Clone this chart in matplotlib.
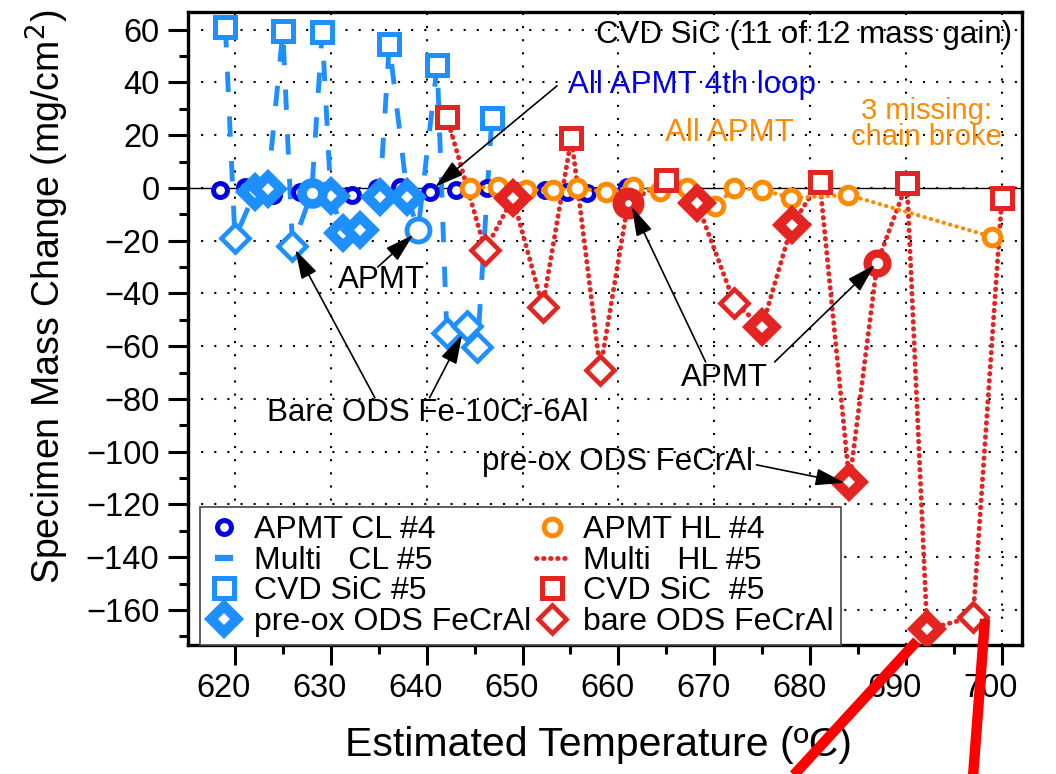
import matplotlib
matplotlib.use("Agg")
import matplotlib.pyplot as plt
from matplotlib.lines import Line2D
from matplotlib.ticker import MultipleLocator
from matplotlib.transforms import ScaledTranslation

plt.rcParams["font.family"] = ["Liberation Sans", "DejaVu Sans"]

# APMT 4th loop (single specimens in each loop)
cl_apmt4_t = [618.4, 621.0, 624.0, 626.8, 629.5, 632.2, 634.8, 637.2, 640.3, 643.1,
              646.3, 649.3, 652.3, 654.6, 656.7, 658.8, 660.9]
cl_apmt4_y = [-0.8, 0.4, -2.6, -1.5, -1.0, -2.6, 0.0, 0.4, -1.5, -0.8,
              0.0, -1.0, -0.8, -1.5, -1.9, -1.5, 0.4]
hl_apmt4_t = [644.5, 647.4, 650.4, 653.2, 655.7, 658.7, 661.5, 664.3, 667.2, 670.1,
              672.1, 675.0, 678.0, 684.0, 699.0]
hl_apmt4_y = [0.0, 0.4, -0.8, -0.8, 0.0, -1.5, 0.4, -1.0, 0.0, -7.0,
              0.0, -0.8, -3.8, -2.7, -18.6]

# Multi-material chain, cold leg #5
cl_sic_t = [619.0, 625.0, 629.1, 636.1, 641.1, 646.8]
cl_sic_y = [61.0, 59.5, 59.0, 54.5, 46.6, 26.5]
cl_preox_t = [622.1, 623.4, 630.0, 631.3, 633.0, 635.1, 638.0]
cl_preox_y = [-1.5, -0.5, -3.0, -17.0, -16.0, -3.4, -3.4]
cl_bare_t = [620.0, 626.0, 642.1, 644.2, 645.3]
cl_bare_y = [-19.0, -22.0, -55.0, -52.5, -60.5]
cl_apmt_t = [628.0, 639.1]
cl_apmt_y = [-2.0, -16.0]

# Multi-material chain, hot leg #5
hl_sic_t = [642.1, 655.1, 665.0, 681.0, 690.1, 700.0]
hl_sic_y = [27.0, 19.0, 3.0, 2.3, 1.9, -3.8]
hl_preox_t = [649.0, 668.2, 675.0, 678.1, 684.1, 692.2]
hl_preox_y = [-3.8, -5.7, -52.6, -14.0, -111.7, -167.4]
hl_bare_t = [646.1, 652.1, 658.1, 672.1, 697.0]
hl_bare_y = [-23.5, -45.0, -69.0, -43.6, -162.6]
hl_apmt_t = [661.0, 687.0]
hl_apmt_y = [-5.7, -28.4]

DKBLUE = "#0000e6"
LTBLUE = "#1e8fff"
RED = "#e32420"
ORANGE = "#ff8a00"


def chain(*pairs):
    pts = []
    for t, y in pairs:
        pts += list(zip(t, y))
    pts.sort()
    return [p[0] for p in pts], [p[1] for p in pts]


fig = plt.figure(figsize=(10.56, 7.74), dpi=100)
ax = fig.add_axes([0.178, 0.1667, 0.7898, 0.8182])
ax.set_xlim(615.1, 702.1)
ax.set_ylim(-173.3, 66.8)

ax.set_xticks(range(620, 701, 10))
ax.xaxis.set_minor_locator(MultipleLocator(5))
ax.set_yticks(range(-160, 61, 20))
ax.yaxis.set_minor_locator(MultipleLocator(10))
ax.tick_params(which="both", direction="out", width=2.2, top=False, right=False,
               labelsize=23.5)
ax.tick_params(which="major", length=14.5, pad=6)
ax.tick_params(which="minor", length=6.5)
for s in ax.spines.values():
    s.set_linewidth(2.4)
ax.grid(True, which="major", color="black", linewidth=1.5,
        linestyle=(0, (1, 5.3)), zorder=0.5)
ax.set_axisbelow(True)
ax.axhline(0, color="black", lw=1.0, zorder=1)

# x tick labels sit a little left of their ticks in the original
shift = ScaledTranslation(-11 / 100, 0, fig.dpi_scale_trans)
for tk in ax.xaxis.get_major_ticks():
    tk.label1.set_transform(tk.label1.get_transform() + shift)

# chain lines
ct, cy = chain((cl_sic_t, cl_sic_y), (cl_preox_t, cl_preox_y),
               (cl_bare_t, cl_bare_y), (cl_apmt_t, cl_apmt_y))
ax.plot(ct, cy, color=LTBLUE, lw=3.5, ls=(0, (4.2, 5.0)), zorder=3)
ht, hy = chain((hl_sic_t, hl_sic_y), (hl_preox_t, hl_preox_y),
               (hl_bare_t, hl_bare_y), (hl_apmt_t, hl_apmt_y))
ax.plot(ht, hy, color=RED, lw=3.5, ls=(0, (0.1, 1.35)),
        dash_capstyle="round", zorder=3)

# APMT 4th loop
ax.plot(cl_apmt4_t, cl_apmt4_y, ls="none", marker="o", ms=10, mew=3.6,
        mec=DKBLUE, mfc="white", zorder=4)
ax.plot(hl_apmt4_t, hl_apmt4_y, color=ORANGE, lw=3, ls=(0, (0.1, 1.5)),
        dash_capstyle="round", marker="o", ms=12, mew=3.6, mfc="white", zorder=5)

sq = dict(ls="none", marker="s", ms=14.4, mew=3.6, mfc="white")
od = dict(ls="none", marker="D", ms=14.5, mew=3.3, mfc="white")
fd = dict(ls="none", marker="D", ms=13.2, mew=7.2, mfc="white")

ax.plot(cl_bare_t, cl_bare_y, mec=LTBLUE, zorder=6, **od)
ax.plot(cl_preox_t, cl_preox_y, mec=LTBLUE, zorder=6, **fd)
ax.plot(cl_sic_t, cl_sic_y, mec=LTBLUE, zorder=6, **sq)
ax.plot(cl_apmt_t[:1], cl_apmt_y[:1], ls="none", marker="o", ms=15, mew=7,
        mec=LTBLUE, mfc="white", zorder=6)
ax.plot(cl_apmt_t[1:], cl_apmt_y[1:], ls="none", marker="o", ms=16.5, mew=3.5,
        mec=LTBLUE, mfc="white", zorder=6)

ax.plot(hl_bare_t, hl_bare_y, mec=RED, zorder=7, **od)
ax.plot(hl_preox_t, hl_preox_y, mec=RED, zorder=7, **fd)
ax.plot(hl_sic_t, hl_sic_y, mec=RED, zorder=7, **sq)
ax.plot(hl_apmt_t[:1], hl_apmt_y[:1], ls="none", marker="o", ms=14, mew=9,
        mec=RED, mfc="white", zorder=7)
ax.plot(hl_apmt_t[1:], hl_apmt_y[1:], ls="none", marker="o", ms=14.2, mew=6,
        mec=RED, mfc="white", zorder=7)

# text and arrows
ax.text(701.1, 58.0, "CVD SiC (11 of 12 mass gain)", ha="right", va="center",
        fontsize=22.5, zorder=8)
ax.text(654.7, 39.0, "All APMT 4th loop", color=DKBLUE, ha="left", va="center",
        fontsize=22.5, zorder=8)
ax.text(664.85, 20.9, "All APMT", color=ORANGE, ha="left", va="center",
        fontsize=22.5, zorder=8)
ax.text(692.1, 24.1, "3 missing:\nchain broke", color=ORANGE, ha="center",
        va="center", fontsize=21, linespacing=0.9, zorder=8)
ax.text(635.3, -34.9, "APMT", ha="center", va="center", fontsize=22.5, zorder=8)
ax.text(640.1, -85.3, "Bare ODS Fe-10Cr-6Al", ha="center", va="center",
        fontsize=22.5, zorder=8)
ax.text(671.1, -72.0, "APMT", ha="center", va="center", fontsize=22.5, zorder=8)
ax.text(659.95, -103.9, "pre-ox ODS FeCrAl", ha="center", va="center",
        fontsize=22.5, zorder=8)

arrows = [
    ((653.6, 38.7), (640.9, 0.4)),
    ((634.9, -30.0), (638.6, -17.8)),
    ((634.6, -79.6), (626.3, -23.5)),
    ((640.3, -79.6), (643.7, -55.7)),
    ((669.1, -66.0), (661.4, -7.2)),
    ((676.3, -66.0), (686.75, -29.2)),
    ((674.4, -105.0), (683.6, -111.8)),
]
for tail, head in arrows:
    ax.annotate("", xy=head, xytext=tail, zorder=9,
                arrowprops=dict(arrowstyle="-|>,head_length=1.2,head_width=0.35",
                                color="black", lw=1.2, shrinkA=0, shrinkB=0,
                                mutation_scale=15))

ax.set_xlabel("Estimated Temperature (ºC)", fontsize=29.5)
ax.set_ylabel("Specimen Mass Change (mg/cm$^2$)", fontsize=27)
ax.xaxis.set_label_coords(0.492, -0.128)
ax.yaxis.set_label_coords(-0.140, 0.55)

handles = [
    Line2D([], [], ls="none", marker="o", ms=10, mew=3.6, mec=DKBLUE, mfc="white"),
    Line2D([], [], ls="none", marker="_", ms=13, mew=4.5, color=LTBLUE),
    Line2D([], [], mec=LTBLUE, **sq),
    Line2D([], [], mec=LTBLUE, **fd),
    Line2D([], [], ls="none", marker="o", ms=12, mew=3.6, mec=ORANGE, mfc="white"),
    Line2D([], [], color=RED, lw=3.5, ls=(0, (0.1, 1.35)), dash_capstyle="round"),
    Line2D([], [], mec=RED, **sq),
    Line2D([], [], mec=RED, **od),
]
labels = ["APMT CL #4", "Multi   CL #5", "CVD SiC #5", "pre-ox ODS FeCrAl",
          "APMT HL #4", "Multi   HL #5", "CVD SiC  #5", "bare ODS FeCrAl"]
leg = ax.legend(handles, labels, ncol=2, loc="lower left",
                bbox_to_anchor=(0.0144, 0.0), borderaxespad=0,
                fontsize=23, frameon=True, fancybox=False, framealpha=1,
                edgecolor="#444444", handlelength=1.0, handletextpad=0.45,
                columnspacing=0.15, labelspacing=0.02, borderpad=0.25)
leg.get_frame().set_linewidth(1.2)
leg.set_zorder(10)

# red pointer lines running off the bottom of the figure
for (x0, y0), (x1, y1) in [((917, 641), (780, 790)), ((985, 619), (972, 790))]:
    fig.add_artist(Line2D([x0 / 1056, x1 / 1056], [1 - y0 / 774, 1 - y1 / 774],
                          transform=fig.transFigure, color="#ff0000", lw=7.5,
                          solid_capstyle="butt", zorder=20))

fig.savefig("out.png", dpi=100)
